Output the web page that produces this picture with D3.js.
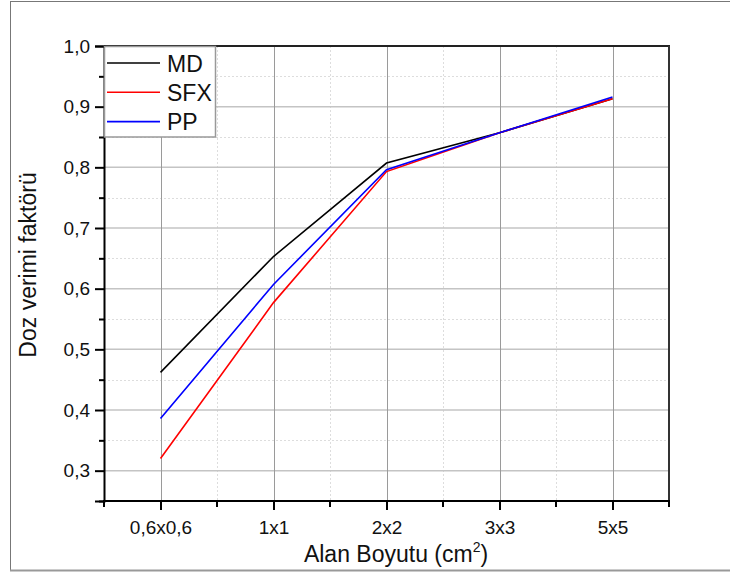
<!DOCTYPE html>
<html>
<head>
<meta charset="utf-8">
<script src="https://cdn.jsdelivr.net/npm/d3@7"></script>
<style>
  html, body { margin: 0; padding: 0; background: #fff; }
  svg { display: block; font-family: "Liberation Sans", Arial, sans-serif; }
</style>
</head>
<body>
<svg id="chart" width="730" height="576"></svg>
<script>
const categories = ["0,6x0,6", "1x1", "2x2", "3x3", "5x5"];
const mdValues  = [0.462, 0.653, 0.807, 0.857, 0.913];
const sfxValues = [0.320, 0.577, 0.793, 0.857, 0.913];
const ppValues  = [0.386, 0.607, 0.796, 0.857, 0.916];
const seriesNames = ["MD", "SFX", "PP"];
const seriesColors = ["#000000", "#ff0000", "#0000ff"];
const yMajorTicks = [0.3, 0.4, 0.5, 0.6, 0.7, 0.8, 0.9, 1.0];
const yMinorTicks = [0.25, 0.35, 0.45, 0.55, 0.65, 0.75, 0.85, 0.95];
const xTitle = "Alan Boyutu (cm";
const yTitle = "Doz verimi faktörü";

const seriesValues = [mdValues, sfxValues, ppValues];
const series = seriesNames.map((n, i) => ({
  name: n, color: seriesColors[i],
  values: categories.map((c, j) => ({cat: c, v: seriesValues[i][j]}))
}));

const svg = d3.select("#chart");
const L = 104, R = 669, T = 46, B = 501;

const x = d3.scalePoint().domain(categories).range([L, R]).padding(0.5);
const step = x.step();
const y = d3.scaleLinear().domain([0.25, 1.0]).range([B, T]);
const fmt = v => d3.format(".1f")(v).replace(".", ",");

// outer frame
svg.append("line").attr("x1", 10.5).attr("x2", 10.5).attr("y1", 1).attr("y2", 571)
  .attr("stroke", "#777").attr("stroke-width", 1);
svg.append("line").attr("x1", 10).attr("x2", 730).attr("y1", 1.5).attr("y2", 1.5)
  .attr("stroke", "#777").attr("stroke-width", 1);
svg.append("line").attr("x1", 10).attr("x2", 730).attr("y1", 570.5).attr("y2", 570.5)
  .attr("stroke", "#999").attr("stroke-width", 2);

// grid
const grid = svg.append("g");
const xMinor = categories.slice(0, -1).map(c => x(c) + step / 2);
grid.selectAll(".ymin").data(yMinorTicks.filter(v => v > 0.26)).join("line")
  .attr("x1", L).attr("x2", R).attr("y1", d => Math.round(y(d)) + 0.5).attr("y2", d => Math.round(y(d)) + 0.5)
  .attr("stroke", "#dddddd").attr("stroke-width", 1).attr("stroke-dasharray", "2,2");
grid.selectAll(".xmin").data(xMinor).join("line")
  .attr("y1", T).attr("y2", B).attr("x1", d => Math.round(d) + 0.5).attr("x2", d => Math.round(d) + 0.5)
  .attr("stroke", "#dddddd").attr("stroke-width", 1).attr("stroke-dasharray", "2,2");
grid.selectAll(".ymaj").data(yMajorTicks.filter(v => v < 0.99)).join("line")
  .attr("x1", L).attr("x2", R).attr("y1", d => y(d)).attr("y2", d => y(d))
  .attr("stroke", "#c4c4c4").attr("stroke-width", 1.5);
grid.selectAll(".xmaj").data(categories).join("line")
  .attr("y1", T).attr("y2", B).attr("x1", d => Math.round(x(d)) + 0.5).attr("x2", d => Math.round(x(d)) + 0.5)
  .attr("stroke", "#9a9a9a").attr("stroke-width", 1);

// series lines
const line = d3.line().x(d => x(d.cat)).y(d => y(d.v));
svg.append("g").selectAll("path").data(series).join("path")
  .attr("d", d => line(d.values))
  .attr("fill", "none").attr("stroke", d => d.color).attr("stroke-width", 1.6);

// box (top / right)
svg.append("line").attr("x1", L).attr("x2", R + 1).attr("y1", T).attr("y2", T)
  .attr("stroke", "#222").attr("stroke-width", 2);
svg.append("line").attr("x1", R).attr("x2", R).attr("y1", T).attr("y2", B)
  .attr("stroke", "#333").attr("stroke-width", 2);

// y axis
const yAxis = d3.axisLeft(y).tickValues(yMajorTicks).tickFormat(fmt).tickSizeOuter(0).tickSize(9).tickPadding(5);
const gy = svg.append("g").attr("transform", `translate(${L},0)`).call(yAxis);
gy.attr("font-size", 19).attr("font-family", "Liberation Sans, Arial, sans-serif");
gy.select(".domain").attr("stroke", "#000").attr("stroke-width", 2);
gy.selectAll(".tick line").attr("stroke", "#000").attr("stroke-width", 2);
gy.selectAll("text").attr("font-size", 19).attr("fill", "#111");
const yMinorAxis = d3.axisLeft(y).tickValues(yMinorTicks).tickFormat("").tickSizeOuter(0).tickSize(5);
const gym = svg.append("g").attr("transform", `translate(${L},0)`).call(yMinorAxis);
gym.select(".domain").remove();
gym.selectAll(".tick line").attr("stroke", "#000").attr("stroke-width", 2);

// x axis
const xAxis = d3.axisBottom(x).tickSizeOuter(0).tickSize(9).tickPadding(11);
const gx = svg.append("g").attr("transform", `translate(0,${B})`).call(xAxis);
gx.attr("font-size", 19).attr("font-family", "Liberation Sans, Arial, sans-serif");
gx.select(".domain").attr("stroke", "#000").attr("stroke-width", 2).attr("d", `M${L - 1},0H${R + 1}`);
gx.selectAll(".tick line").attr("stroke", "#000").attr("stroke-width", 2);
gx.selectAll("text").attr("font-size", 19).attr("fill", "#111");
const xMinorPos = [L].concat(xMinor).concat([R]);
gx.selectAll(".xminor").data(xMinorPos).join("line")
  .attr("x1", d => d).attr("x2", d => d).attr("y1", 0).attr("y2", 6)
  .attr("stroke", "#000").attr("stroke-width", 2);

// axis titles
const xt = svg.append("text").attr("x", 396).attr("y", 562).attr("text-anchor", "middle")
  .attr("font-size", 23).attr("fill", "#111");
xt.append("tspan").text(xTitle);
xt.append("tspan").attr("font-size", 14).attr("dy", -10).text("2");
xt.append("tspan").attr("dy", 10).text(")");

svg.append("text").attr("transform", "translate(36,265) rotate(-90)")
  .attr("text-anchor", "middle").attr("font-size", 23).attr("fill", "#111").text(yTitle);

// legend
const lg = svg.append("g");
lg.append("rect").attr("x", L + 0.5).attr("y", T + 0.5).attr("width", 111).attr("height", 90.5)
  .attr("fill", "#fff").attr("stroke", "#999").attr("stroke-width", 1.5);
const items = lg.selectAll(".item").data(series).join("g")
  .attr("transform", (d, i) => `translate(0,${63 + i * 29.3})`);
items.append("line").attr("x1", 107).attr("x2", 160).attr("y1", 0).attr("y2", 0)
  .attr("stroke", d => d.color).attr("stroke-width", 1.6);
items.append("text").attr("x", 167).attr("y", 8.5).attr("font-size", 23).attr("fill", "#111")
  .text(d => d.name);
</script>
</body>
</html>
